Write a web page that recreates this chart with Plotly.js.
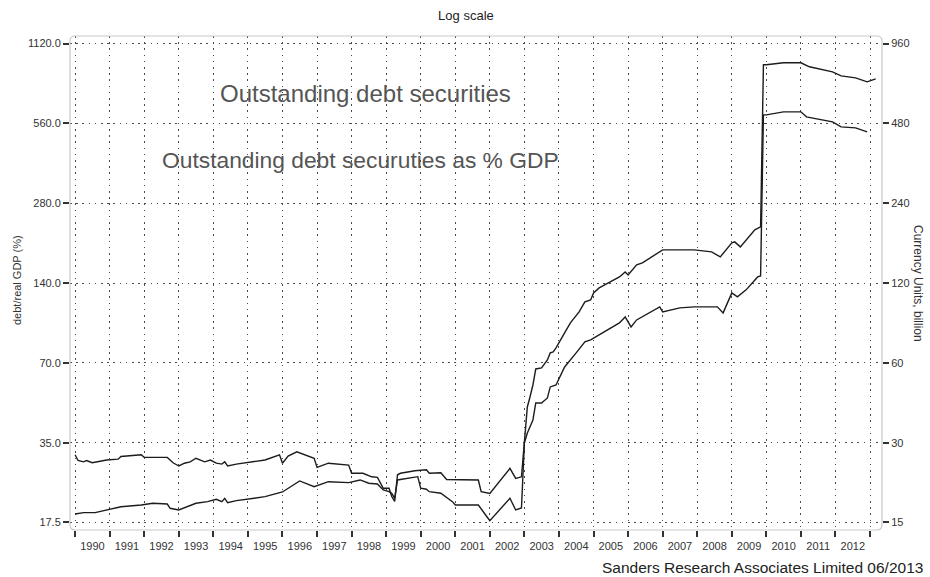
<!DOCTYPE html>
<html>
<head>
<meta charset="utf-8">
<script src="https://cdn.plot.ly/plotly-3.0.1.min.js"></script>
<style>
  html, body { margin: 0; padding: 0; background: #fff; }
  #chart { width: 930px; height: 577px; }
</style>
</head>
<body>
<div id="chart"></div>
<script>
// Outstanding debt securities, currency units (billion) — right axis
const debtDates = [
  "1990-01","1990-02","1990-04","1990-05","1990-07","1990-12","1991-04","1991-05","1991-12",
  "1992-01","1992-09","1992-11","1993-01","1993-03","1993-05","1993-07","1993-10","1993-12",
  "1994-02","1994-04","1994-05","1994-06","1994-09","1995-01","1995-07","1995-12","1996-01",
  "1996-03","1996-06","1996-12","1997-01","1997-05","1997-12","1998-01","1998-05","1998-08",
  "1998-10","1998-12","1999-02","1999-03","1999-04","1999-05","1999-06","1999-11","2000-03",
  "2000-04","2000-08","2000-10","2001-09","2001-10","2002-01","2002-08","2002-10","2002-12",
  "2003-01","2003-02","2003-03","2003-04","2003-05","2003-07","2003-09","2003-10","2003-11",
  "2003-12","2004-03","2004-05","2004-08","2004-10","2004-12","2005-01","2005-03","2005-07",
  "2005-10","2005-12","2006-01","2006-04","2006-06","2007-01","2007-07","2007-12","2008-06",
  "2008-09","2009-01","2009-02","2009-04","2009-09","2009-11","2009-12","2010-01","2010-07",
  "2011-01","2011-04","2011-12","2012-03","2012-08","2012-12","2013-03"
];
const debtValues = [
  27.0, 25.7, 25.4, 25.7, 25.2, 25.8, 26.0, 26.6, 27.0,
  26.4, 26.4, 25.2, 24.5, 25.1, 25.4, 26.2, 25.4, 25.8,
  25.1, 24.9, 25.4, 24.5, 24.9, 25.2, 25.8, 27.0, 25.1,
  26.7, 27.7, 26.2, 24.2, 25.1, 24.7, 23.0, 23.0, 22.3,
  22.2, 20.2, 20.2, 18.8, 18.0, 22.7, 23.0, 23.5, 23.7,
  23.0, 23.1, 21.8, 21.7, 19.6, 19.3, 24.0, 22.0, 22.3,
  30.0, 40.9, 44.6, 49.5, 56.9, 57.4, 61.5, 65.4, 66.0,
  68.3, 77.8, 84.9, 93.4, 101.8, 103.6, 110.1, 115.0, 121.2,
  126.5, 132.1, 128.7, 140.4, 142.9, 160.0, 160.0, 160.0, 157.2,
  150.5, 170.0, 171.5, 164.2, 190.3, 195.3, 797.9, 798.0, 811.9,
  812.0, 784.2, 750.8, 725.1, 712.7, 688.3, 706.5
];

// Outstanding debt securities as % of real GDP — left axis
const gdpDates = [
  "1990-01","1990-04","1990-08","1991-01","1991-05","1991-12","1992-04","1992-09","1992-10",
  "1993-01","1993-05","1993-07","1993-11","1994-02","1994-04","1994-05","1994-06","1994-09",
  "1995-07","1995-12","1996-01","1996-07","1996-12","1997-05","1997-12","1998-04","1998-07",
  "1998-10","1998-12","1999-02","1999-03","1999-04","1999-05","1999-12","2000-01","2000-03",
  "2000-04","2000-08","2000-12","2001-01","2001-09","2001-12","2002-01","2002-08","2002-10",
  "2002-12","2003-01","2003-02","2003-04","2003-05","2003-07","2003-09","2003-10","2003-12",
  "2004-03","2004-07","2004-10","2004-12","2005-03","2005-07","2005-10","2005-12","2006-02",
  "2006-04","2006-12","2007-01","2007-07","2007-12","2008-08","2008-10","2009-01","2009-03",
  "2009-06","2009-10","2009-11","2009-12","2010-01","2010-07","2011-01","2011-03","2011-12",
  "2012-03","2012-08","2012-12"
];
const gdpValues = [
  18.84, 19.06, 19.06, 19.63, 20.07, 20.37, 20.68, 20.55, 19.80,
  19.51, 20.20, 20.68, 20.97, 21.41, 20.97, 21.59, 20.78, 21.15,
  21.90, 22.67, 22.81, 25.10, 23.88, 24.94, 24.73, 25.32, 24.60,
  24.45, 23.21, 22.87, 22.55, 21.59, 25.32, 26.05, 23.56, 23.35,
  22.87, 22.55, 20.97, 20.37, 20.37, 18.40, 17.78, 21.59, 19.51,
  19.85, 34.95, 38.08, 42.63, 49.41, 49.41, 51.61, 56.78, 57.77,
  67.55, 76.29, 83.93, 85.40, 89.19, 94.79, 99.0, 104.3, 95.6,
  101.6, 113.8, 108.9, 112.8, 113.8, 113.8, 108.0, 128.5, 124.1,
  131.9, 147.6, 148.9, 602.9, 602.9, 618.8, 618.8, 592.5, 567.4,
  543.2, 538.5, 520.2
];

// Axis ticks
const leftTicks = [17.5, 35, 70, 140, 280, 560, 1120];
const leftTickText = ["17.5", "35.0", "70.0", "140.0", "280.0", "560.0", "1120.0"];
const rightTicks = [15, 30, 60, 120, 240, 480, 960];
const rightTickText = ["15", "30", "60", "120", "240", "480", "960"];

const FONT = "Liberation Sans, Arial, Helvetica, sans-serif";
const GRID = "#4a4a4a";
const DOTS = "1.6px,4.6px";

// Both log axes share the same pixel scale (right = left * 6/7)
const pad = 0.0283;
const leftRange = [Math.log10(17.5) - pad, Math.log10(1120) + pad];
const shift = Math.log10(6 / 7);
const rightRange = [leftRange[0] + shift, leftRange[1] + shift];

const lineStyle = { color: "#1c1c1c", width: 1.4 };

const traces = [
  {
    x: gdpDates, y: gdpValues, type: "scatter", mode: "lines",
    line: lineStyle, yaxis: "y", hoverinfo: "x+y"
  },
  {
    x: debtDates, y: debtValues, type: "scatter", mode: "lines",
    line: lineStyle, yaxis: "y2", hoverinfo: "x+y"
  }
];

// Light rounded frame around the plotting area
const rx = 5 / 812, ry = 5 / 494;
const framePath =
  `M ${rx} 1 L ${1 - rx} 1 Q 1 1 1 ${1 - ry} L 1 ${ry} Q 1 0 ${1 - rx} 0 ` +
  `L ${rx} 0 Q 0 0 0 ${ry} L 0 ${1 - ry} Q 0 1 ${rx} 1 Z`;

const layout = {
  width: 930, height: 577,
  margin: { l: 70, r: 48, t: 36, b: 47 },
  paper_bgcolor: "#ffffff",
  plot_bgcolor: "#ffffff",
  showlegend: false,
  font: { family: FONT, size: 11, color: "#333333" },
  title: {
    text: "Log scale",
    x: 0.501, xref: "container", xanchor: "center",
    y: 1 - 15 / 577, yref: "container", yanchor: "middle",
    font: { family: FONT, size: 13, color: "#222222" }
  },
  xaxis: {
    type: "date",
    range: ["1989-11-08", "2013-05-07"],
    tick0: "1990-01-01", dtick: "M12",
    ticklabelmode: "period", tickformat: "%Y",
    ticks: "outside", ticklen: 6, tickwidth: 2, tickcolor: "#333333",
    showgrid: true, gridcolor: GRID, gridwidth: 1, griddash: DOTS,
    showline: false, zeroline: false,
    tickfont: { family: FONT, size: 11, color: "#333333" }
  },
  yaxis: {
    type: "log",
    range: leftRange,
    tickvals: leftTicks, ticktext: leftTickText,
    ticks: "outside", ticklen: 6, tickwidth: 2, tickcolor: "#333333",
    showgrid: true, gridcolor: GRID, gridwidth: 1, griddash: DOTS,
    showline: false, zeroline: false,
    tickfont: { family: FONT, size: 11, color: "#333333" }
  },
  yaxis2: {
    type: "log",
    overlaying: "y", side: "right",
    range: rightRange,
    tickvals: rightTicks, ticktext: rightTickText,
    ticks: "outside", ticklen: 6, tickwidth: 2, tickcolor: "#333333",
    showgrid: false, showline: false, zeroline: false,
    tickfont: { family: FONT, size: 11, color: "#333333" }
  },
  shapes: [
    {
      type: "path", xref: "paper", yref: "paper", path: framePath,
      line: { color: "#c9c9c9", width: 1.2 }, layer: "above"
    }
  ],
  annotations: [
    {
      text: "Outstanding debt securities",
      xref: "paper", yref: "paper", x: (365 - 70) / 812, y: (530 - 93) / 494,
      xanchor: "center", yanchor: "middle", showarrow: false,
      font: { family: FONT, size: 24, color: "#555555" }
    },
    {
      text: "Outstanding debt securuties as % GDP",
      xref: "paper", yref: "paper", x: (360 - 70) / 812, y: (530 - 160) / 494,
      xanchor: "center", yanchor: "middle", showarrow: false,
      font: { family: FONT, size: 22.8, color: "#555555" }
    },
    {
      text: "debt/real GDP (%)",
      xref: "paper", yref: "paper", x: (17 - 70) / 812, y: (530 - 280) / 494,
      xanchor: "center", yanchor: "middle", textangle: -90, showarrow: false,
      font: { family: FONT, size: 11, color: "#333333" }
    },
    {
      text: "Currency Units, billion",
      xref: "paper", yref: "paper", x: (918 - 70) / 812, y: (530 - 283) / 494,
      xanchor: "center", yanchor: "middle", textangle: 90, showarrow: false,
      font: { family: FONT, size: 12, color: "#333333" }
    },
    {
      text: "Sanders Research Associates Limited 06/2013",
      xref: "paper", yref: "paper", x: (925 - 70) / 812, y: (530 - 567) / 494,
      xanchor: "right", yanchor: "middle", showarrow: false,
      font: { family: FONT, size: 15.5, color: "#222222" }
    }
  ]
};

Plotly.newPlot("chart", traces, layout, { displayModeBar: false, staticPlot: true });
</script>
</body>
</html>
